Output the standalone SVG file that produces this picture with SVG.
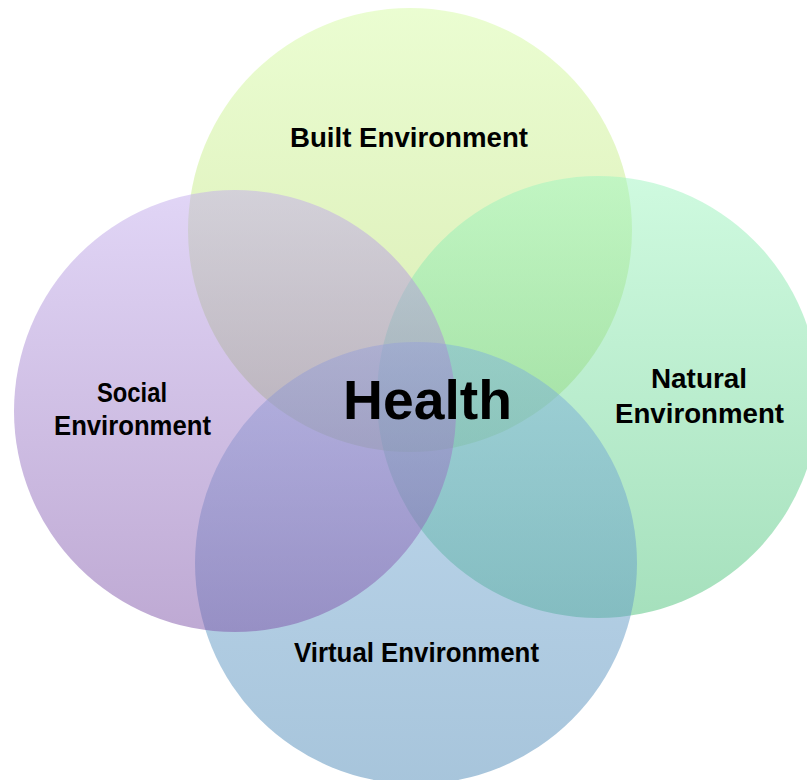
<svg xmlns="http://www.w3.org/2000/svg" width="807" height="780" viewBox="0 0 807 780">
<defs>
<linearGradient id="gBuilt" x1="0" y1="0" x2="0" y2="1">
<stop offset="0" stop-color="#d6fba4"/><stop offset="1" stop-color="#b3d766"/>
</linearGradient>
<linearGradient id="gNatural" x1="0" y1="0" x2="0" y2="1">
<stop offset="0" stop-color="#9ff5c0"/><stop offset="1" stop-color="#4cc17a"/>
</linearGradient>
<linearGradient id="gVirtual" x1="0" y1="0" x2="0" y2="1">
<stop offset="0" stop-color="#81b3dc"/><stop offset="1" stop-color="#508bb8"/>
</linearGradient>
<linearGradient id="gSocial" x1="0" y1="0" x2="0" y2="1">
<stop offset="0" stop-color="#c3aced"/><stop offset="1" stop-color="#7e54a8"/>
</linearGradient>
</defs>
<style>
.c{fill-opacity:0.5;stroke:none}
.t{font-family:"Liberation Sans",Arial,sans-serif;font-weight:bold;font-size:27px;fill:#000;text-anchor:start}
.h{font-family:"Liberation Sans",Arial,sans-serif;font-weight:bold;font-size:56px;fill:#000}
</style>
<rect width="807" height="780" fill="#ffffff"/>
<g id="built"><circle class="c" cx="410" cy="230" r="222" fill="url(#gBuilt)"/></g>
<g id="natural"><circle class="c" cx="598" cy="397" r="221" fill="url(#gNatural)"/></g>
<g id="virtual"><circle class="c" cx="416" cy="563" r="221" fill="url(#gVirtual)"/></g>
<g id="social"><circle class="c" cx="235" cy="411" r="221" fill="url(#gSocial)"/></g>
<g id="connectors"></g>
<g id="labels">
<text class="t" x="290" y="147" textLength="238" lengthAdjust="spacingAndGlyphs">Built Environment</text>
<text class="t" x="97" y="402" textLength="70" lengthAdjust="spacingAndGlyphs">Social</text>
<text class="t" x="54" y="435" textLength="157" lengthAdjust="spacingAndGlyphs">Environment</text>
<text class="t" x="651" y="388" textLength="96" lengthAdjust="spacingAndGlyphs">Natural</text>
<text class="t" x="615" y="423" textLength="169" lengthAdjust="spacingAndGlyphs">Environment</text>
<text class="t" x="294" y="662" textLength="245" lengthAdjust="spacingAndGlyphs">Virtual Environment</text>
<text class="h" x="343" y="419" textLength="169" lengthAdjust="spacingAndGlyphs">Health</text>
</g>
</svg>
